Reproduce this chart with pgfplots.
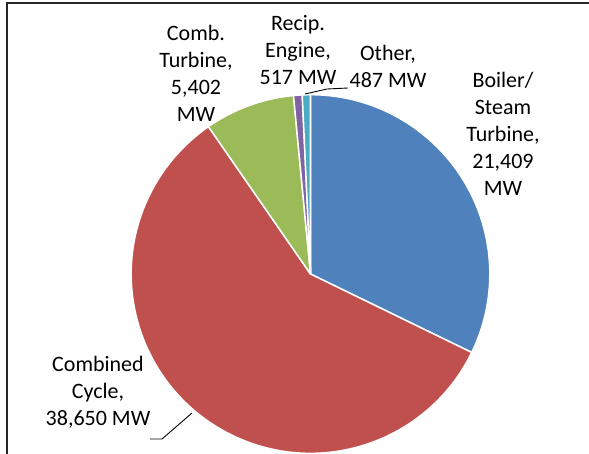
\documentclass[border=0pt]{standalone}
\usepackage{pgfplots}
\usepackage{pgfplotstable}
\usepackage{fontspec}
\setmainfont{Carlito}
\pgfplotsset{compat=1.18}
\definecolor{cBlue}{HTML}{4F81BD}
\definecolor{cRed}{HTML}{C0504D}
\definecolor{cGreen}{HTML}{9BBB59}
\definecolor{cPurple}{HTML}{8064A2}
\definecolor{cTeal}{HTML}{4BACC6}
\pgfplotstableread{
label value
Boiler 21409
Combined 38650
CombTurb 5402
Recip 517
Other 487
}\piedata
% cumulative angles computed from the table (in the preamble: no stray spaces)
\begingroup
\pgfkeys{/pgf/fpu=true,/pgf/fpu/output format=fixed}%
\gdef\mytot{0}%
\foreach \i in {0,...,4}{%
  \pgfplotstablegetelem{\i}{value}\of\piedata
  \pgfmathparse{\mytot+\pgfplotsretval}%
  \xdef\mytot{\pgfmathresult}}%
\expandafter\gdef\csname ang0\endcsname{90}%
\gdef\mycur{90}%
\foreach \i/\j in {0/1,1/2,2/3,3/4,4/5}{%
  \pgfplotstablegetelem{\i}{value}\of\piedata
  \pgfmathparse{\mycur-360*\pgfplotsretval/\mytot}%
  \expandafter\xdef\csname ang\j\endcsname{\pgfmathresult}%
  \xdef\mycur{\pgfmathresult}}%
\endgroup
\def\A#1{\csname ang#1\endcsname}
\begin{document}%
\begin{tikzpicture}
\useasboundingbox (0,0) rectangle (589bp,454bp);
\begin{axis}[
  at={(0,0)}, anchor=south west,
  x=1bp, y=1bp, scale only axis,
  xmin=0, xmax=589, ymin=0, ymax=454,
  hide axis, clip=false,
]
\fill[fill=cBlue,draw=white,line width=1.5bp,line join=round]
  (axis cs:310.5,180) -- ++(\A0:179.3bp) arc[start angle=\A0,end angle=\A1,radius=179.3bp] -- cycle;
\fill[fill=cRed,draw=white,line width=1.5bp,line join=round]
  (axis cs:310.5,180) -- ++(\A1:179.3bp) arc[start angle=\A1,end angle=\A2,radius=179.3bp] -- cycle;
\fill[fill=cGreen,draw=white,line width=1.5bp,line join=round]
  (axis cs:310.5,180) -- ++(\A2:179.3bp) arc[start angle=\A2,end angle=\A3,radius=179.3bp] -- cycle;
\fill[fill=cPurple,draw=white,line width=1.5bp,line join=round]
  (axis cs:310.5,180) -- ++(\A3:179.3bp) arc[start angle=\A3,end angle=\A4,radius=179.3bp] -- cycle;
\fill[fill=cTeal,draw=white,line width=1.5bp,line join=round]
  (axis cs:310.5,180) -- ++(\A4:179.3bp) arc[start angle=\A4,end angle=\A5,radius=179.3bp] -- cycle;
\draw[line width=0.9bp] (axis cs:150,15) -- (axis cs:162,15) -- (axis cs:192,41);
\draw[line width=0.9bp] (axis cs:305,360) -- (axis cs:327,365) -- (axis cs:348,366);
\draw[line width=2bp,black!85] (axis cs:7,0) -- (axis cs:7,451) -- (axis cs:589,451);
\node[align=center,font=\fontsize{22bp}{27bp}\selectfont,inner sep=0pt] at (axis cs:196,381) {Comb.\\Turbine,\\5,402\\MW};
\node[align=center,font=\fontsize{22bp}{27bp}\selectfont,inner sep=0pt] at (axis cs:298,404) {Recip.\\Engine,\\517 MW};
\node[align=center,font=\fontsize{22bp}{27bp}\selectfont,inner sep=0pt] at (axis cs:388,388) {Other,\\487 MW};
\node[align=center,font=\fontsize{22bp}{27bp}\selectfont,inner sep=0pt] at (axis cs:503,320) {Boiler/\\Steam\\Turbine,\\21,409\\MW};
\node[align=center,font=\fontsize{22bp}{27bp}\selectfont,inner sep=0pt] at (axis cs:98,62) {Combined\\Cycle,\\38,650 MW};
\end{axis}
\end{tikzpicture}%
\end{document}
